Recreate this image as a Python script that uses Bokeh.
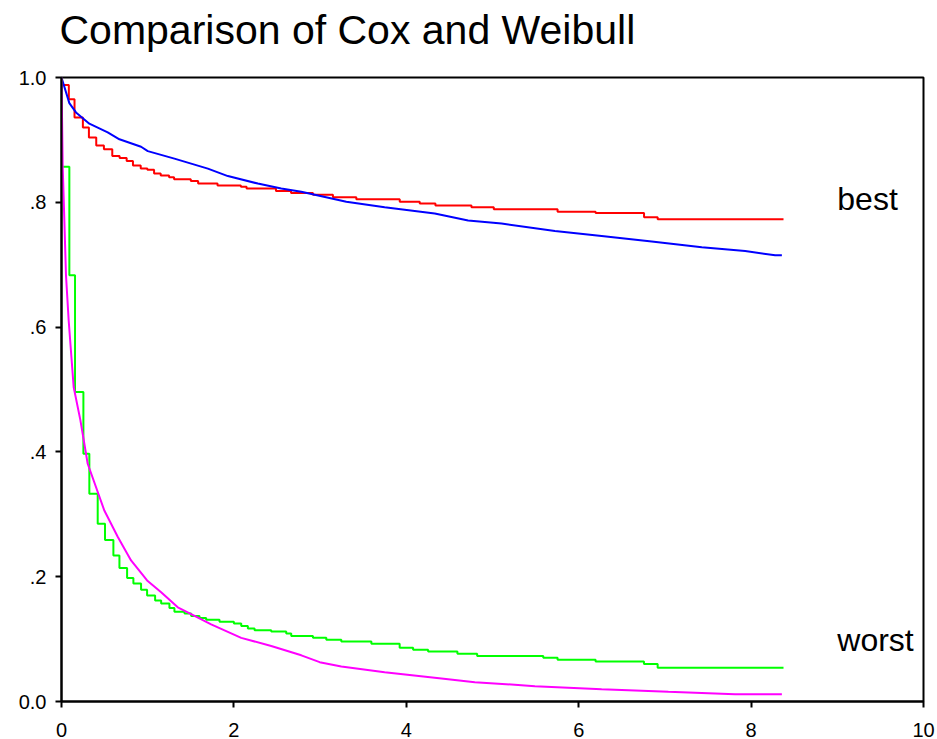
from bokeh.plotting import figure
from bokeh.models import FixedTicker, Range1d, ColumnDataSource, Title
from bokeh.core.properties import value
from bokeh.embed import file_html
from bokeh.resources import INLINE

title_text = "Comparison of Cox and Weibull"
group_labels = ["best", "worst"]

# Cox (Kaplan-Meier style step) estimate, best group
cox_best_t = [0, 0, 0.085, 0.151, 0.248, 0.318, 0.403, 0.492, 0.589, 0.674, 0.756,
              0.829, 0.919, 0.996, 1.074, 1.151, 1.248, 1.306, 1.5, 1.585, 1.810,
              2.081, 2.147, 2.488, 2.663, 2.917, 3.149, 3.420, 3.924, 4.156, 4.338,
              4.756, 5.015, 5.755, 6.196, 6.758, 6.916, 8.376]
cox_best_s = [1.0, 0.988, 0.965, 0.936, 0.920, 0.904, 0.891, 0.885, 0.874, 0.871, 0.866,
              0.859, 0.854, 0.852, 0.846, 0.843, 0.840, 0.837, 0.834, 0.830, 0.827,
              0.825, 0.822, 0.818, 0.815, 0.812, 0.808, 0.805, 0.801, 0.798, 0.795,
              0.792, 0.789, 0.785, 0.783, 0.776, 0.773, 0.773]

# Cox step estimate, worst group
cox_worst_t = [0, 0, 0.091, 0.157, 0.254, 0.323, 0.420, 0.505, 0.602, 0.672, 0.761,
               0.834, 0.923, 0.993, 1.086, 1.156, 1.252, 1.310, 1.427, 1.504, 1.601,
               1.678, 1.833, 2.000, 2.085, 2.162, 2.240, 2.433, 2.607, 2.665, 2.917,
               3.072, 3.246, 3.595, 3.923, 4.079, 4.253, 4.593, 4.822, 5.589, 5.755,
               6.196, 6.757, 6.916, 8.376]
cox_worst_s = [1.0, 0.857, 0.683, 0.496, 0.397, 0.333, 0.285, 0.259, 0.234, 0.214, 0.198,
               0.189, 0.179, 0.170, 0.162, 0.157, 0.150, 0.144, 0.141, 0.137, 0.134,
               0.131, 0.128, 0.125, 0.121, 0.117, 0.114, 0.112, 0.109, 0.105, 0.102,
               0.099, 0.096, 0.0925, 0.086, 0.083, 0.080, 0.0765, 0.073, 0.070, 0.067,
               0.064, 0.060, 0.054, 0.054]

# Weibull fit, best group
weib_best_t = [0, 0.091, 0.168, 0.323, 0.536, 0.672, 0.923, 1.001, 1.310, 1.698, 1.930,
               2.278, 2.549, 2.782, 3.304, 3.749, 4.330, 4.717, 5.105, 5.724, 6.266,
               6.847, 7.428, 7.931, 8.279, 8.357]
weib_best_s = [1.0, 0.959, 0.944, 0.926, 0.912, 0.901, 0.889, 0.882, 0.870, 0.854, 0.842,
               0.830, 0.822, 0.817, 0.801, 0.792, 0.782, 0.771, 0.766, 0.754, 0.746,
               0.737, 0.728, 0.722, 0.715, 0.715]

# Weibull fit, worst group
weib_worst_t = [0, 0.014, 0.033, 0.052, 0.083, 0.141, 0.219, 0.304, 0.497, 0.652, 0.807,
                0.993, 1.156, 1.349, 1.504, 1.736, 2.085, 2.433, 2.782, 2.995, 3.246,
                3.749, 4.408, 4.795, 5.492, 6.266, 7.040, 7.814, 8.357]
weib_worst_s = [1.0, 0.857, 0.771, 0.683, 0.611, 0.504, 0.451, 0.381, 0.306, 0.264, 0.226,
                0.194, 0.175, 0.151, 0.140, 0.1235, 0.102, 0.089, 0.074, 0.063, 0.056,
                0.047, 0.037, 0.031, 0.0246, 0.0198, 0.0155, 0.0118, 0.0118]

x_ticks = [0, 2, 4, 6, 8, 10]
y_ticks = [0.0, 0.2, 0.4, 0.6, 0.8, 1.0]
y_tick_labels = ["0.0", ".2", ".4", ".6", ".8", "1.0"]

FONT = "Liberation Sans"

p = figure(width=937, height=739, output_backend="svg", toolbar_location=None,
           x_range=Range1d(0, 10), y_range=Range1d(0, 1),
           min_border_left=61, min_border_right=14, min_border_top=77,
           min_border_bottom=38, title=title_text)

p.title.text_font = FONT
p.title.text_font_size = "41px"
p.title.text_font_style = "normal"
p.title.text_color = "black"
p.title.align = "left"
p.title.vertical_align = "bottom"
p.title.offset = -2
p.title.standoff = 0

# white 1px spacer between the frame and the (outermost) chart title
spacer = Title(text=".", text_font_size="1px", text_color="white", standoff=22)
p.add_layout(spacer, "above")

p.background_fill_color = "white"
p.border_fill_color = "white"
p.outline_line_color = "black"
p.outline_line_width = 2
p.xgrid.visible = False
p.ygrid.visible = False

for ax in (p.xaxis[0], p.yaxis[0]):
    ax.axis_line_color = "black"
    ax.axis_line_width = 2
    ax.major_tick_line_color = "black"
    ax.major_tick_line_width = 2
    ax.major_tick_in = 0
    ax.major_tick_out = 6
    ax.minor_tick_line_color = None
    ax.major_label_text_font = FONT
    ax.major_label_text_font_size = "20px"
    ax.major_label_text_color = "black"

p.xaxis[0].ticker = FixedTicker(ticks=x_ticks)
p.xaxis[0].major_label_standoff = 15
p.yaxis[0].ticker = FixedTicker(ticks=y_ticks)
p.yaxis[0].major_label_overrides = {t: l for t, l in zip(y_ticks, y_tick_labels)}
p.yaxis[0].major_label_standoff = 9

p.step(cox_best_t, cox_best_s, mode="after", line_color="#FF0000", line_width=2)
p.line(weib_best_t, weib_best_s, line_color="#0000FF", line_width=2)
p.step(cox_worst_t, cox_worst_s, mode="after", line_color="#00FF00", line_width=2)
p.line(weib_worst_t, weib_worst_s, line_color="#FF00FF", line_width=2)

lab_src = ColumnDataSource(dict(x=[9.0, 9.0], y=[0.8045, 0.0978], text=group_labels))
p.text(x="x", y="y", text="text", source=lab_src, text_font=value(FONT),
       text_font_size="32px", text_baseline="middle", text_align="left",
       text_color="black")

open("out.html", "w").write(file_html(p, INLINE))
